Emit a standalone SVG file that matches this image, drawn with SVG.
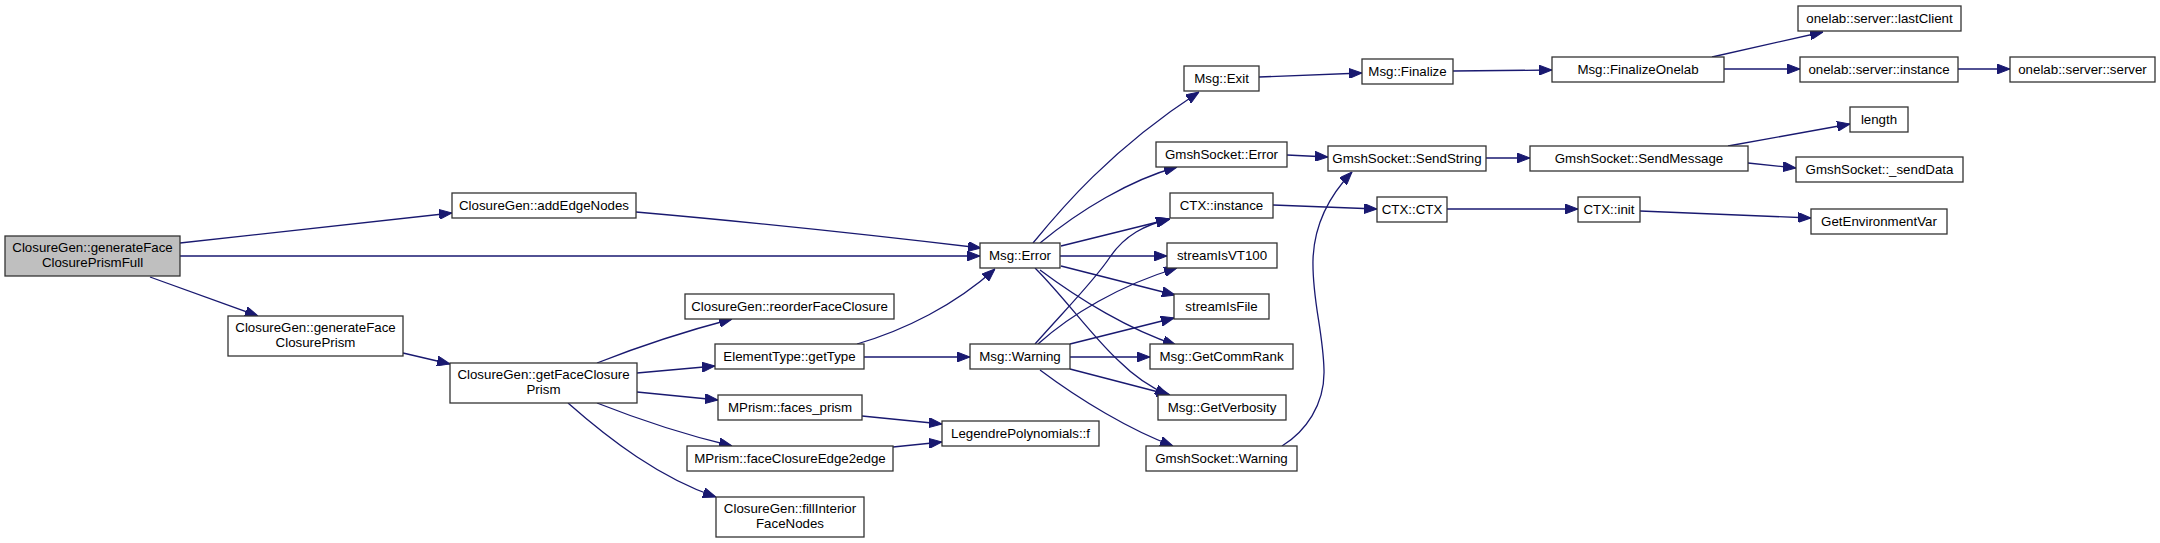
<svg xmlns="http://www.w3.org/2000/svg" width="2160" height="543" viewBox="0 0 2160 543">
<style>
.n rect{fill:#ffffff;stroke:#333333;stroke-width:1.3}
.n.root rect{fill:#bfbfbf}
.n text{font-family:"Liberation Sans",Arial,sans-serif;font-size:13.3px;fill:#000;text-anchor:middle}
.e path{fill:none;stroke:#191970;stroke-width:1.3;marker-end:url(#ah)}
</style>
<defs>
<marker id="ah" markerUnits="userSpaceOnUse" markerWidth="13" markerHeight="10" viewBox="0 0 13 10" refX="13" refY="5" orient="auto">
<path d="M0,0 L13,5 L0,10 z" fill="#191970" stroke="#191970" stroke-width="1"/>
</marker>
</defs>
<rect width="2160" height="543" fill="#ffffff"/>
<g id="edges" class="e">
<path d="M180,243 L452,213"/>
<path d="M180,256 L980,256"/>
<path d="M150,277 L258,316"/>
<path d="M636,212 C750,222 880,236 981,248"/>
<path d="M403,353 L450,364"/>
<path d="M597,363 C640,346 690,330 732,319"/>
<path d="M637,373 L715,366"/>
<path d="M637,392 L718,400"/>
<path d="M597,403 C640,420 690,436 732,446"/>
<path d="M568,403 C610,440 660,478 716,497"/>
<path d="M857,344 C905,330 955,305 995,269"/>
<path d="M864,357 L970,357"/>
<path d="M862,416 L942,424"/>
<path d="M893,447 L942,442"/>
<path d="M1033,243 C1060,210 1110,150 1199,92"/>
<path d="M1040,243 C1080,210 1130,180 1177,167"/>
<path d="M1061,246 L1170,219"/>
<path d="M1060,256 L1167,256"/>
<path d="M1061,266 L1175,295"/>
<path d="M1040,270 C1080,300 1130,330 1176,345"/>
<path d="M1035,268 C1065,298 1095,340 1120,362 C1135,377 1150,387 1168,395"/>
<path d="M1035,344 C1065,310 1095,280 1110,257 C1125,235 1145,225 1169,219"/>
<path d="M1038,344 C1070,315 1120,285 1177,268"/>
<path d="M1070,344 L1174,318"/>
<path d="M1070,357 L1150,357"/>
<path d="M1070,369 L1170,395"/>
<path d="M1040,370 C1080,400 1130,430 1173,446"/>
<path d="M1282,446 C1305,432 1325,405 1324,370 C1323,330 1312,300 1313,260 C1314,225 1330,195 1352,172"/>
<path d="M1287,155 L1328,157"/>
<path d="M1273,205 L1377,209"/>
<path d="M1259,77 L1362,73"/>
<path d="M1453,71 L1552,70"/>
<path d="M1712,57 L1823,32"/>
<path d="M1724,69 L1800,69"/>
<path d="M1958,69 L2010,69"/>
<path d="M1486,158 L1530,158"/>
<path d="M1728,146 L1850,124"/>
<path d="M1748,163 L1796,168"/>
<path d="M1447,209 L1578,209"/>
<path d="M1640,211 L1811,218"/>
</g>
<g id="n_full" class="n root"><rect x="5" y="236" width="175" height="40"/><text x="92.5" y="252">ClosureGen::generateFace</text><text x="92.5" y="267">ClosurePrismFull</text></g>
<g id="n_addEdge" class="n"><rect x="452" y="193" width="184" height="25"/><text x="544" y="210">ClosureGen::addEdgeNodes</text></g>
<g id="n_genPrism" class="n"><rect x="228" y="316" width="175" height="40"/><text x="315.5" y="332">ClosureGen::generateFace</text><text x="315.5" y="347">ClosurePrism</text></g>
<g id="n_error" class="n"><rect x="980" y="243" width="80" height="25"/><text x="1020" y="260">Msg::Error</text></g>
<g id="n_getFCP" class="n"><rect x="450" y="363" width="187" height="40"/><text x="543.5" y="379">ClosureGen::getFaceClosure</text><text x="543.5" y="394">Prism</text></g>
<g id="n_reorder" class="n"><rect x="685" y="294" width="209" height="25"/><text x="789.5" y="311">ClosureGen::reorderFaceClosure</text></g>
<g id="n_getType" class="n"><rect x="715" y="344" width="149" height="25"/><text x="789.5" y="361">ElementType::getType</text></g>
<g id="n_facesPrism" class="n"><rect x="718" y="395" width="144" height="25"/><text x="790" y="412">MPrism::faces_prism</text></g>
<g id="n_fce2e" class="n"><rect x="687" y="446" width="206" height="25"/><text x="790" y="463">MPrism::faceClosureEdge2edge</text></g>
<g id="n_fill" class="n"><rect x="716" y="497" width="148" height="40"/><text x="790" y="513">ClosureGen::fillInterior</text><text x="790" y="528">FaceNodes</text></g>
<g id="n_legendre" class="n"><rect x="942" y="421" width="157" height="25"/><text x="1020.5" y="438">LegendrePolynomials::f</text></g>
<g id="n_warning" class="n"><rect x="970" y="344" width="100" height="25"/><text x="1020" y="361">Msg::Warning</text></g>
<g id="n_exit" class="n"><rect x="1184" y="66" width="75" height="25"/><text x="1221.5" y="83">Msg::Exit</text></g>
<g id="n_gsError" class="n"><rect x="1156" y="142" width="131" height="25"/><text x="1221.5" y="159">GmshSocket::Error</text></g>
<g id="n_ctxInst" class="n"><rect x="1170" y="193" width="103" height="25"/><text x="1221.5" y="210">CTX::instance</text></g>
<g id="n_vt100" class="n"><rect x="1167" y="243" width="110" height="25"/><text x="1222" y="260">streamIsVT100</text></g>
<g id="n_isFile" class="n"><rect x="1174" y="294" width="95" height="25"/><text x="1221.5" y="311">streamIsFile</text></g>
<g id="n_commRank" class="n"><rect x="1150" y="344" width="143" height="25"/><text x="1221.5" y="361">Msg::GetCommRank</text></g>
<g id="n_verb" class="n"><rect x="1158" y="395" width="128" height="25"/><text x="1222" y="412">Msg::GetVerbosity</text></g>
<g id="n_gsWarning" class="n"><rect x="1146" y="446" width="151" height="25"/><text x="1221.5" y="463">GmshSocket::Warning</text></g>
<g id="n_finalize" class="n"><rect x="1362" y="59" width="91" height="25"/><text x="1407.5" y="76">Msg::Finalize</text></g>
<g id="n_sendString" class="n"><rect x="1328" y="146" width="158" height="25"/><text x="1407" y="163">GmshSocket::SendString</text></g>
<g id="n_ctx" class="n"><rect x="1377" y="197" width="70" height="25"/><text x="1412" y="214">CTX::CTX</text></g>
<g id="n_finOnelab" class="n"><rect x="1552" y="57" width="172" height="25"/><text x="1638" y="74">Msg::FinalizeOnelab</text></g>
<g id="n_sendMsg" class="n"><rect x="1530" y="146" width="218" height="25"/><text x="1639" y="163">GmshSocket::SendMessage</text></g>
<g id="n_init" class="n"><rect x="1578" y="197" width="62" height="25"/><text x="1609" y="214">CTX::init</text></g>
<g id="n_lastClient" class="n"><rect x="1798" y="6" width="163" height="25"/><text x="1879.5" y="23">onelab::server::lastClient</text></g>
<g id="n_instance" class="n"><rect x="1800" y="57" width="158" height="25"/><text x="1879" y="74">onelab::server::instance</text></g>
<g id="n_server" class="n"><rect x="2010" y="57" width="145" height="25"/><text x="2082.5" y="74">onelab::server::server</text></g>
<g id="n_length" class="n"><rect x="1850" y="107" width="58" height="25"/><text x="1879" y="124">length</text></g>
<g id="n_sendData" class="n"><rect x="1796" y="157" width="167" height="25"/><text x="1879.5" y="174">GmshSocket::_sendData</text></g>
<g id="n_getEnv" class="n"><rect x="1811" y="209" width="136" height="25"/><text x="1879" y="226">GetEnvironmentVar</text></g>
</svg>
